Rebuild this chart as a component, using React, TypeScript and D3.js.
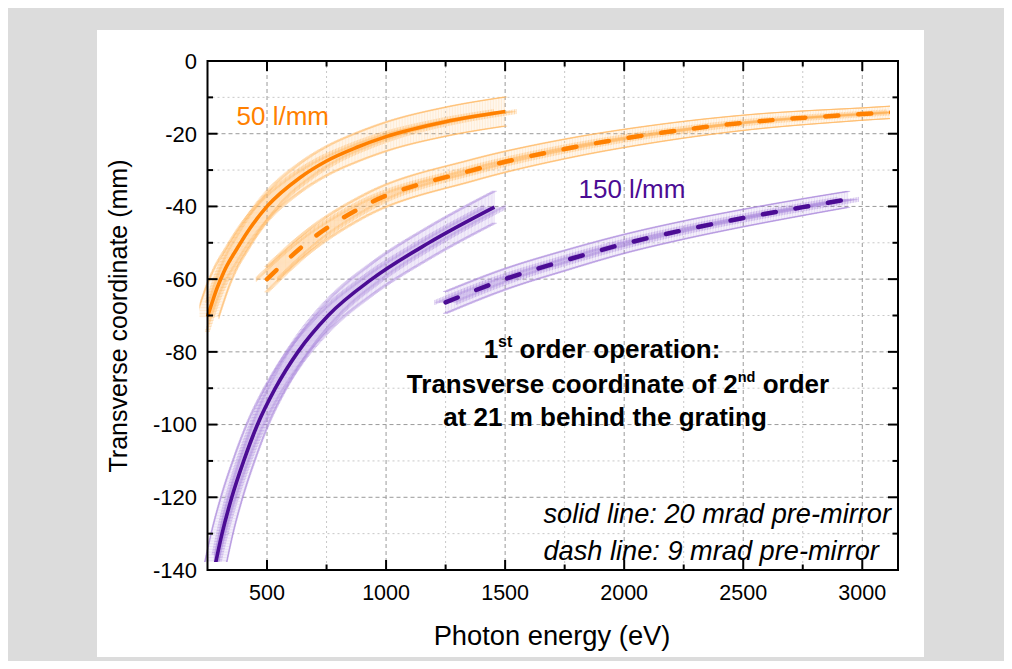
import React, { useEffect, useRef } from "react";
import * as d3 from "d3";

// ---- axis ticks ----
const X_MAJOR = [500, 1000, 1500, 2000, 2500, 3000];
const X_MINOR = [250, 750, 1250, 1750, 2250, 2750];
const Y_MAJOR = [0, -20, -40, -60, -80, -100, -120, -140];
const Y_MINOR = [-10, -30, -50, -70, -90, -110, -130];

// ---- 50 l/mm, 20 mrad pre-mirror (solid) ----
const E_50_20 = [250, 270, 290, 320, 375, 420, 500, 638, 750, 875, 1000, 1250, 1500];
const V_50_20 = [-70.3, -66.3, -62.5, -57.8, -51.5, -46.8, -40, -32.1, -27.5, -23.8, -20.8, -16.7, -13.9];
const ERR_50_20 = [4, 4, 4, 4, 4, 4, 4, 4, 4, 4, 4, 4, 4];

// ---- 50 l/mm, 9 mrad pre-mirror (dash) ----
const E_50_9 = [500, 667, 904, 1365, 1750, 2130, 2500, 3000, 3150];
const V_50_9 = [-60, -50, -40, -30, -24.2, -20, -17.0, -14.6, -14.0];
const ERR_50_9 = [3.5, 3.3, 3.1, 3.0, 2.7, 2.4, 2.1, 1.7, 1.7];

// ---- 150 l/mm, 20 mrad pre-mirror (solid) ----
const E_150_20 = [278, 311, 352, 402, 460, 535, 630, 757, 940, 1180, 1455];
const V_150_20 = [-140, -130, -120, -110, -100, -90, -80, -70, -60, -50, -40.2];
const ERR_150_20 = [4.4, 4.4, 4.4, 4.4, 4.4, 4.4, 4.4, 4.4, 4.4, 4.4, 4.4];

// ---- 150 l/mm, 9 mrad pre-mirror (dash) ----
const E_150_9 = [1250, 1500, 1750, 2000, 2250, 2500, 2750, 2945];
const V_150_9 = [-66.4, -60, -54.9, -50.3, -46.5, -43.2, -40.2, -38.0];
const ERR_150_9 = [3.0, 2.9, 2.8, 2.6, 2.5, 2.4, 2.3, 2.2];

// horizontal (energy) error, eV
const XERR_EV = [48, 45, 46, 45];

const ORANGE = "#ff8000";
const PURPLE = "#4b0c94";
const ORANGE_BAND = "#ffb55c";
const PURPLE_BAND = "#a884dc";

const FONT = "'Liberation Sans', Arial, Helvetica, sans-serif";

export default function App() {
  const ref = useRef<SVGSVGElement | null>(null);

  useEffect(() => {
    const svg = d3.select(ref.current);
    svg.selectAll("*").remove();
    const root = svg.append("g").attr("transform", "translate(-8,-8)");

    // backgrounds
    root.append("rect").attr("x", 8).attr("y", 8).attr("width", 996).attr("height", 653).attr("fill", "#dcdcdc");
    root.append("rect").attr("x", 97).attr("y", 30).attr("width", 827).attr("height", 627).attr("fill", "#ffffff");

    const L = 207.5, R = 898, T = 61, B = 570;
    const x = d3.scaleLinear().domain([250, 3150]).range([L, R]);
    const y = d3.scaleLinear().domain([0, -140]).range([T, B]);

    // clip
    svg.append("defs").append("clipPath").attr("id", "plotclip")
      .append("rect").attr("x", L - 8).attr("y", T - 8).attr("width", R - L).attr("height", B - T);

    // grid
    const grid = root.append("g");
    X_MINOR.filter(v => v > 250).forEach(v => {
      grid.append("line").attr("x1", x(v)).attr("x2", x(v)).attr("y1", T).attr("y2", B)
        .attr("stroke", "#c8c8c8").attr("stroke-width", 1).attr("stroke-dasharray", "2,3");
    });
    Y_MINOR.forEach(v => {
      grid.append("line").attr("x1", L).attr("x2", R).attr("y1", y(v)).attr("y2", y(v))
        .attr("stroke", "#c8c8c8").attr("stroke-width", 1).attr("stroke-dasharray", "2,3");
    });
    X_MAJOR.forEach(v => {
      grid.append("line").attr("x1", x(v)).attr("x2", x(v)).attr("y1", T).attr("y2", B)
        .attr("stroke", "#9a9a9a").attr("stroke-width", 1).attr("stroke-dasharray", "4,3");
    });
    Y_MAJOR.filter(v => v !== 0 && v !== -140).forEach(v => {
      grid.append("line").attr("x1", L).attr("x2", R).attr("y1", y(v)).attr("y2", y(v))
        .attr("stroke", "#9a9a9a").attr("stroke-width", 1).attr("stroke-dasharray", "4,3");
    });

    const series = [
      { E: E_50_20, V: V_50_20, err: ERR_50_20, xe: XERR_EV[0], color: ORANGE, band: ORANGE_BAND, dash: false },
      { E: E_50_9, V: V_50_9, err: ERR_50_9, xe: XERR_EV[1], color: ORANGE, band: ORANGE_BAND, dash: true },
      { E: E_150_20, V: V_150_20, err: ERR_150_20, xe: XERR_EV[2], color: PURPLE, band: PURPLE_BAND, dash: false },
      { E: E_150_9, V: V_150_9, err: ERR_150_9, xe: XERR_EV[3], color: PURPLE, band: PURPLE_BAND, dash: true },
    ];

    const line = d3.line<[number, number]>().x(d => x(d[0])).y(d => y(d[1])).curve(d3.curveMonotoneX);
    const plot = root.append("g").attr("clip-path", "url(#plotclip)");
    const bandsG = plot.append("g");
    const linesG = plot.append("g");
    const pxPerMm = (B - T) / 140;
    const pxPerEv = (R - L) / 2900;

    series.forEach(s => {
      const pts = s.E.map((e, i) => [e, s.V[i]] as [number, number]);
      const d = line(pts) || "";
      const errAt = d3.scaleLinear().domain(s.E).range(s.err).clamp(true);
      const tmp = bandsG.append("path").attr("d", d).attr("fill", "none").attr("stroke", "none");
      const node = tmp.node() as SVGPathElement;
      const len = node.getTotalLength();
      let bars = "";
      let caps = "";
      const ex = s.xe * pxPerEv;
      const cw = 2.5;
      for (let l = 0; l <= len; l += 1.6) {
        const p = node.getPointAtLength(l);
        const ey = errAt(x.invert(p.x)) * pxPerMm;
        bars += `M${p.x.toFixed(2)},${(p.y - ey).toFixed(2)}V${(p.y + ey).toFixed(2)}`;
        bars += `M${(p.x - ex).toFixed(2)},${p.y.toFixed(2)}H${(p.x + ex).toFixed(2)}`;
        caps += `M${(p.x - cw).toFixed(2)},${(p.y - ey).toFixed(2)}H${(p.x + cw).toFixed(2)}`;
        caps += `M${(p.x - cw).toFixed(2)},${(p.y + ey).toFixed(2)}H${(p.x + cw).toFixed(2)}`;
        caps += `M${(p.x - ex).toFixed(2)},${(p.y - cw).toFixed(2)}V${(p.y + cw).toFixed(2)}`;
        caps += `M${(p.x + ex).toFixed(2)},${(p.y - cw).toFixed(2)}V${(p.y + cw).toFixed(2)}`;
      }
      tmp.remove();
      bandsG.append("path").attr("d", bars).attr("fill", "none").attr("stroke", s.band)
        .attr("stroke-width", 1).attr("stroke-opacity", 0.26);
      bandsG.append("path").attr("d", caps).attr("fill", "none").attr("stroke", s.band)
        .attr("stroke-width", 1).attr("stroke-opacity", 0.5);

      linesG.append("path").attr("d", d).attr("fill", "none").attr("stroke", s.color)
        .attr("stroke-width", s.dash ? 4.5 : 3.6)
        .attr("stroke-linecap", s.dash ? "round" : "butt")
        .attr("stroke-dasharray", s.dash ? "13,20" : null);
    });

    // frame and ticks
    const ax = root.append("g").attr("stroke", "#000").attr("stroke-width", 2);
    ax.append("rect").attr("x", L).attr("y", T).attr("width", R - L).attr("height", B - T).attr("fill", "none");
    const MAJ = 10, MIN = 5.5;
    X_MAJOR.forEach(v => {
      ax.append("line").attr("x1", x(v)).attr("x2", x(v)).attr("y1", B).attr("y2", B - MAJ);
      ax.append("line").attr("x1", x(v)).attr("x2", x(v)).attr("y1", T).attr("y2", T + MAJ);
    });
    X_MINOR.filter(v => v > 250).forEach(v => {
      ax.append("line").attr("x1", x(v)).attr("x2", x(v)).attr("y1", B).attr("y2", B - MIN);
      ax.append("line").attr("x1", x(v)).attr("x2", x(v)).attr("y1", T).attr("y2", T + MIN);
    });
    Y_MAJOR.filter(v => v !== 0 && v !== -140).forEach(v => {
      ax.append("line").attr("x1", L).attr("x2", L + MAJ).attr("y1", y(v)).attr("y2", y(v));
      ax.append("line").attr("x1", R).attr("x2", R - MAJ).attr("y1", y(v)).attr("y2", y(v));
    });
    Y_MINOR.forEach(v => {
      ax.append("line").attr("x1", L).attr("x2", L + MIN).attr("y1", y(v)).attr("y2", y(v));
      ax.append("line").attr("x1", R).attr("x2", R - MIN).attr("y1", y(v)).attr("y2", y(v));
    });

    // tick labels
    const txt = root.append("g").attr("font-family", FONT).attr("fill", "#000");
    X_MAJOR.forEach(v => {
      txt.append("text").attr("x", x(v)).attr("y", 600).attr("text-anchor", "middle")
        .attr("font-size", 21.5).text(String(v));
    });
    Y_MAJOR.forEach(v => {
      txt.append("text").attr("x", 197).attr("y", y(v) + 7.8).attr("text-anchor", "end")
        .attr("font-size", 22).text(String(v));
    });

    // axis titles
    txt.append("text").attr("x", 552).attr("y", 645).attr("text-anchor", "middle")
      .attr("font-size", 27.3).text("Photon energy (eV)");
    txt.append("text").attr("transform", "translate(127,316) rotate(-90)").attr("text-anchor", "middle")
      .attr("font-size", 25).text("Transverse coordinate (mm)");

    // series labels
    txt.append("text").attr("x", 236.5).attr("y", 125).attr("font-size", 26).attr("fill", ORANGE).text("50 l/mm");
    txt.append("text").attr("x", 578.5).attr("y", 198.3).attr("font-size", 26).attr("fill", PURPLE).text("150 l/mm");

    // annotation
    const ann = txt.append("g").attr("font-weight", "bold").attr("font-size", 26).attr("text-anchor", "middle");
    const l1 = ann.append("text").attr("x", 602).attr("y", 358);
    l1.append("tspan").text("1");
    l1.append("tspan").attr("dy", -11).attr("font-size", 16).text("st");
    l1.append("tspan").attr("dy", 11).text(" order operation:");
    const l2 = ann.append("text").attr("x", 618).attr("y", 393);
    l2.append("tspan").text("Transverse coordinate of 2");
    l2.append("tspan").attr("dy", -11).attr("font-size", 14.5).text("nd");
    l2.append("tspan").attr("dy", 11).text(" order");
    ann.append("text").attr("x", 605).attr("y", 426).text("at 21 m behind the grating");

    // notes
    const notes = txt.append("g").attr("font-style", "italic").attr("font-size", 27.2);
    notes.append("text").attr("x", 543.5).attr("y", 523.3).text("solid line: 20 mrad pre-mirror");
    notes.append("text").attr("x", 543.5).attr("y", 560).text("dash line: 9 mrad pre-mirror");
  }, []);

  return <svg ref={ref} width={996} height={653} style={{ display: "block" }} />;
}
